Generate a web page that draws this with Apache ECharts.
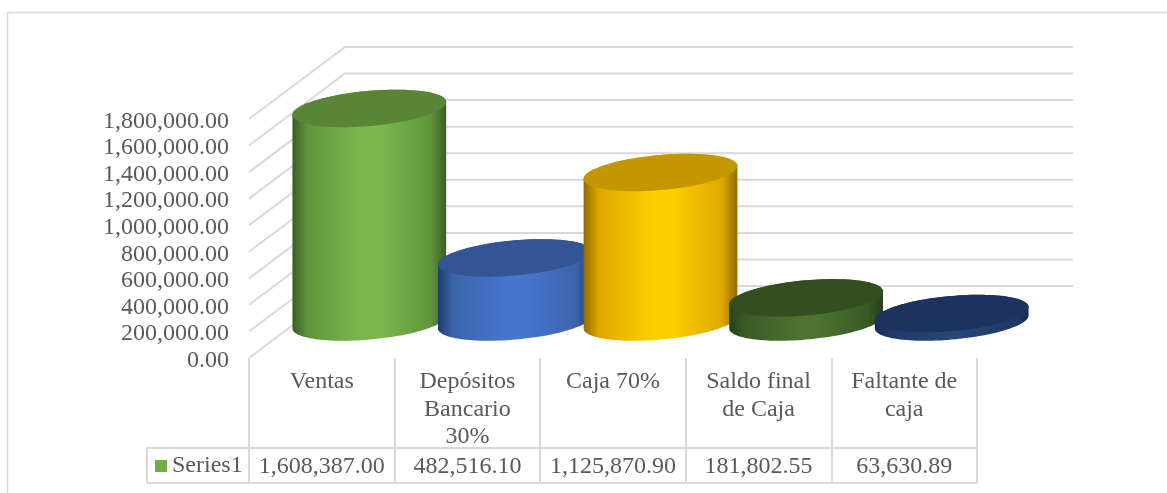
<!DOCTYPE html>
<html><head><meta charset="utf-8">
<style>html,body{margin:0;padding:0;background:#fff}#c{width:1167px;height:493px}</style>
<script src="https://cdn.jsdelivr.net/npm/echarts@6/dist/echarts.min.js"></script>
</head><body><div id="c"></div>
<script>
const categories = ['Ventas', 'Depósitos\nBancario\n30%', 'Caja 70%', 'Saldo final\nde Caja', 'Faltante de\ncaja'];
const values = [1608387.00, 482516.10, 1125870.90, 181802.55, 63630.89];
const tableLabels = ['1,608,387.00', '482,516.10', '1,125,870.90', '181,802.55', '63,630.89'];
const yTicks = [0, 200000, 400000, 600000, 800000, 1000000, 1200000, 1400000, 1600000, 1800000];
const yTickLabels = ['0.00', '200,000.00', '400,000.00', '600,000.00', '800,000.00', '1,000,000.00', '1,200,000.00', '1,400,000.00', '1,600,000.00', '1,800,000.00'];
const seriesName = 'Series1';
const edgeColors = ['#3a5e24', '#203b70', '#8c6c00', '#26401b', '#172c54'];
const sideColors = ['#5f953b', '#3b64ab', '#dfa800', '#3a5a25', '#1f3a6a'];
const lightColors = ['#7ab84e', '#4775cc', '#ffce00', '#4c7331', '#264478'];
const topColors = ['#5a8436', '#335593', '#c49700', '#344e20', '#1c335f'];

const FONT = 'Liberation Serif', TXT = '#595959', LINE = '#d9d9d9';
const DEPTH_X = 96, DEPTH_Y = 72;

function ellipse(cx, cy, a, b, s, from, to, n) {
  const pts = [];
  for (let i = 0; i <= n; i++) {
    const t = from + (to - from) * i / n;
    pts.push([cx + a * Math.cos(t), cy - b * Math.sin(t) - s * Math.cos(t)]);
  }
  return pts;
}

function renderWall(params, api) {
  const cs = params.coordSys;
  const y = api.coord([0, api.value(1)])[1];
  return {
    type: 'group', silent: true,
    children: [
      {
        type: 'polyline',
        shape: { points: [[cs.x, y], [cs.x + DEPTH_X, y - DEPTH_Y], [cs.x + cs.width + DEPTH_X, y - DEPTH_Y]] },
        style: { stroke: LINE, lineWidth: 2, fill: 'none' }
      },
      {
        type: 'text',
        style: {
          x: cs.x - 20, y: y + 2.5, text: yTickLabels[params.dataIndex],
          align: 'right', verticalAlign: 'middle',
          fill: TXT, font: '24px "Liberation Serif"'
        }
      }
    ]
  };
}

function renderCylinder(params, api) {
  const i = api.value(0);
  const top = api.coord([i, api.value(1)]);
  const base = api.coord([i, 0]);
  const band = api.size([1, 0])[0];
  const a = band * 0.528, b = 17.6, s = 6.5;
  const cx = top[0] + DEPTH_X / 2 - 0.5;
  const cyTop = top[1] - DEPTH_Y / 2, cyBase = base[1] - DEPTH_Y / 2;
  const front = ellipse(cx, cyBase, a, b, s, Math.PI, 2 * Math.PI, 60);
  const backTop = ellipse(cx, cyTop, a, b, s, 0, Math.PI, 60);
  const bodyFill = {
    type: 'linear', x: 0, y: 0, x2: 1, y2: 0,
    colorStops: [
      { offset: 0, color: edgeColors[i] }, { offset: 0.1, color: sideColors[i] },
      { offset: 0.45, color: lightColors[i] }, { offset: 0.58, color: lightColors[i] },
      { offset: 0.9, color: sideColors[i] }, { offset: 1, color: edgeColors[i] }
    ]
  };
  return {
    type: 'group',
    children: [
      { type: 'polygon', shape: { points: front.concat(backTop) }, style: { fill: bodyFill } },
      { type: 'polygon', shape: { points: ellipse(cx, cyTop, a, b, s, 0, 2 * Math.PI, 120) }, style: { fill: topColors[i] } }
    ]
  };
}

const chart = echarts.init(document.getElementById('c'), null, { renderer: 'canvas' });
chart.setOption({
  backgroundColor: '#fff',
  animation: false,
  textStyle: { fontFamily: FONT },
  legend: {
    data: [{ name: seriesName, icon: 'rect', itemStyle: { color: '#70ad47' } }],
    left: 155, top: 454, itemWidth: 12, itemHeight: 12, padding: 0,
    selectedMode: false,
    textStyle: { fontFamily: FONT, fontSize: 24, color: TXT }
  },
  grid: { left: 249, top: 119, width: 728, height: 239, containLabel: false },
  xAxis: [
    {
      type: 'category', data: categories, position: 'bottom',
      axisLine: { show: false },
      axisTick: { show: true, length: 90, lineStyle: { color: LINE, width: 2 } },
      axisLabel: { interval: 0, color: TXT, fontFamily: FONT, fontSize: 24, lineHeight: 27.5, margin: 10, verticalAlign: 'top' }
    },
    {
      type: 'category', data: tableLabels, position: 'bottom', offset: 90,
      axisLine: { show: true, lineStyle: { color: LINE, width: 2 } },
      axisTick: { show: true, length: 35, lineStyle: { color: LINE, width: 2 } },
      axisLabel: { interval: 0, color: TXT, fontFamily: FONT, fontSize: 24, margin: 7, verticalAlign: 'top' }
    }
  ],
  yAxis: {
    type: 'value', min: 0, max: 1800000, interval: 200000,
    axisLine: { show: false }, axisTick: { show: false }, splitLine: { show: false },
    axisLabel: { show: false }
  },
  graphic: [
    { type: 'rect', silent: true, shape: { x: 7.5, y: 12.5, width: 1300, height: 600 }, style: { fill: 'none', stroke: LINE, lineWidth: 1.5 }, z: -1 },
    { type: 'polyline', silent: true, shape: { points: [[249, 448], [147, 448], [147, 483], [977, 483]] }, style: { fill: 'none', stroke: LINE, lineWidth: 2 } }
  ],
  series: [
    {
      type: 'custom', name: '_wall', silent: true, z: 1, xAxisIndex: 0,
      renderItem: renderWall,
      data: yTicks.map(v => [0, v])
    },
    {
      type: 'custom', name: seriesName, silent: true, z: 2, xAxisIndex: 0,
      itemStyle: { color: '#70ad47' },
      renderItem: renderCylinder,
      encode: { x: 0, y: 1 },
      data: values.map((v, i) => [i, v])
    }
  ]
});
</script></body></html>
